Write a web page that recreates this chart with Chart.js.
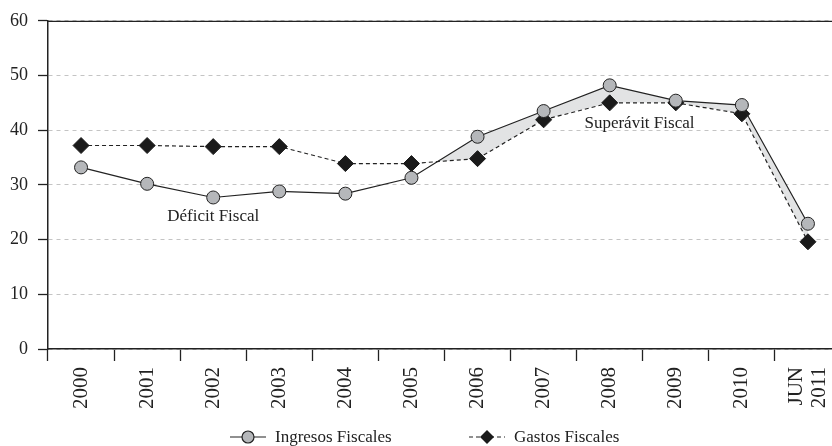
<!DOCTYPE html>
<html>
<head>
<meta charset="utf-8">
<script src="https://cdn.jsdelivr.net/npm/chart.js@4.4.1/dist/chart.umd.min.js"></script>
<style>
  html, body { margin: 0; padding: 0; background: #fff; overflow: hidden; width: 832px; height: 446px; }
  #wrap { position: relative; width: 850px; height: 446px; }
  .leg { position: absolute; top: 427px; font: 17px "Liberation Serif", serif; color: #222; display: flex; align-items: center; white-space: nowrap; }
  .leg canvas { margin-right: 6px; }
</style>
</head>
<body>
<div id="wrap">
  <canvas id="chart" width="850" height="446"></canvas>
  <div class="leg" id="leg0" style="left:229px"><canvas id="ico0" width="40" height="18"></canvas><span>Ingresos Fiscales</span></div>
  <div class="leg" id="leg1" style="left:468px"><canvas id="ico1" width="40" height="18"></canvas><span>Gastos Fiscales</span></div>
</div>
<script>
// data
const years = ["2000", "2001", "2002", "2003", "2004", "2005", "2006", "2007", "2008", "2009", "2010", ["JUN", "2011"]];
const ingresos = [33.2, 30.2, 27.7, 28.8, 28.4, 31.3, 38.8, 43.5, 48.2, 45.4, 44.6, 22.9];
const gastos = [37.2, 37.2, 37.0, 37.0, 33.9, 33.9, 34.8, 41.9, 45.0, 45.0, 43.0, 19.6];
const yTicks = [0, 10, 20, 30, 40, 50, 60];

// text labels inside the plot: [text, category index, value]
const notes = [
  ["Déficit Fiscal", 2, 24.2],
  ["Superávit Fiscal", 8.45, 41.2]
];

const FONT = "'Liberation Serif', 'Times New Roman', serif";
const INK = "#222";
const GREY = "#b5b7ba";

// draw the little legend icons (line + marker)
function drawIcon(id, dashed, marker) {
  const c = document.getElementById(id).getContext("2d");
  c.strokeStyle = INK;
  c.lineWidth = 1.2;
  c.setLineDash(dashed ? [4, 3] : []);
  c.beginPath();
  c.moveTo(1, 9); c.lineTo(37, 9);
  c.stroke();
  c.setLineDash([]);
  if (marker === "circle") {
    c.fillStyle = GREY;
    c.beginPath(); c.arc(19, 9, 6, 0, Math.PI * 2); c.fill(); c.stroke();
  } else {
    c.fillStyle = "#1a1a1a";
    c.beginPath();
    c.moveTo(19, 2); c.lineTo(26, 9); c.lineTo(19, 16); c.lineTo(12, 9); c.closePath();
    c.fill();
  }
}
drawIcon("ico0", false, "circle");
drawIcon("ico1", true, "diamond");

// centre multi-line rotated labels on their tick
const centerLabels = {
  id: "centerLabels",
  beforeDraw(chart) {
    chart.scales.x.getLabelItems().forEach(item => {
      if (Array.isArray(item.label)) {
        item.textOffset -= (item.label.length - 1) * item.font.lineHeight / 2;
      }
    });
  }
};

// top frame line + annotation texts
const extras = {
  id: "extras",
  afterDatasetsDraw(chart) {
    const { ctx, chartArea, scales } = chart;
    ctx.save();
    ctx.strokeStyle = INK;
    ctx.lineWidth = 1.3;
    ctx.beginPath();
    ctx.moveTo(chartArea.left, chartArea.top + 0.5);
    ctx.lineTo(chartArea.right, chartArea.top + 0.5);
    ctx.stroke();
    ctx.fillStyle = INK;
    ctx.font = "17px " + FONT;
    ctx.textAlign = "center";
    ctx.textBaseline = "middle";
    notes.forEach(n => {
      ctx.fillText(n[0], scales.x.getPixelForValue(n[1]), scales.y.getPixelForValue(n[2]));
    });
    ctx.restore();
  }
};

new Chart(document.getElementById("chart"), {
  type: "line",
  data: {
    labels: years,
    datasets: [
      {
        label: "Ingresos Fiscales",
        data: ingresos,
        borderColor: INK,
        borderWidth: 1.2,
        pointStyle: "circle",
        pointRadius: 6.5,
        pointBackgroundColor: GREY,
        pointBorderColor: INK,
        pointBorderWidth: 1,
        tension: 0,
        fill: { target: 1, above: "#e2e3e4", below: "rgba(0,0,0,0)" },
        order: 0
      },
      {
        label: "Gastos Fiscales",
        data: gastos,
        borderColor: INK,
        borderWidth: 1.2,
        borderDash: [4, 3],
        pointStyle: "rectRot",
        pointRadius: 8,
        pointBackgroundColor: "#1a1a1a",
        pointBorderColor: "#1a1a1a",
        pointBorderWidth: 1,
        tension: 0,
        fill: false,
        order: 1
      }
    ]
  },
  options: {
    responsive: false,
    animation: false,
    events: [],
    layout: { padding: { top: 10, right: 1, left: 0, bottom: 0 } },
    plugins: {
      legend: { display: false },
      tooltip: { enabled: false },
      filler: { drawTime: "beforeDatasetsDraw" }
    },
    scales: {
      x: {
        offset: true,
        grid: {
          offset: true,
          drawOnChartArea: false,
          drawTicks: true,
          tickLength: 12,
          tickColor: INK,
          tickWidth: 1.3
        },
        border: { display: true, color: INK, width: 1.5 },
        ticks: {
          autoSkip: false,
          minRotation: 90,
          maxRotation: 90,
          padding: 6,
          color: INK,
          font: { family: FONT, size: 21, lineHeight: 1.1 }
        },
        afterFit(scale) {
          scale.height = 446 - 349;
          scale.paddingLeft = 0;
          scale.paddingRight = 0;
        }
      },
      y: {
        min: 0,
        max: 60,
        afterBuildTicks(scale) { scale.ticks = yTicks.map(v => ({ value: v })); },
        grid: {
          color: "#c4c4c4",
          lineWidth: 1,
          tickColor: INK,
          tickLength: 10,
          tickWidth: 1.3,
          tickBorderDash: []
        },
        border: { display: true, color: INK, width: 1.5, dash: [4, 4] },
        ticks: {
          padding: 10,
          color: INK,
          font: { family: FONT, size: 18 }
        },
        afterFit(scale) { scale.width = 48; }
      }
    }
  },
  plugins: [centerLabels, extras]
});
</script>
</body>
</html>
